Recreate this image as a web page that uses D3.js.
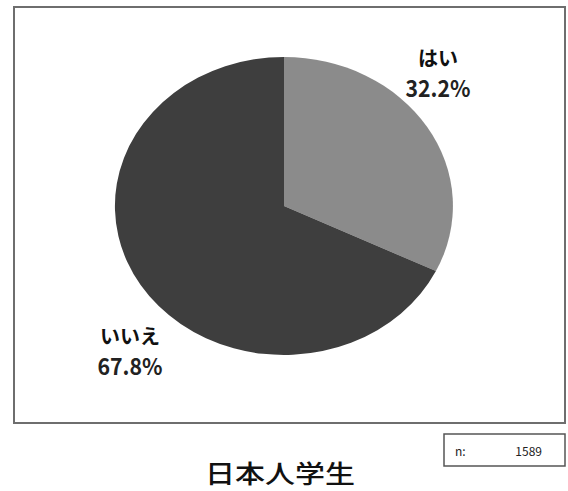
<!DOCTYPE html>
<html>
<head>
<meta charset="utf-8">
<script src="https://cdn.jsdelivr.net/npm/d3@7"></script>
<style>
  html, body { margin: 0; padding: 0; background: #fff; }
  svg { display: block; }
  text { font-family: "Noto Sans CJK JP", "Noto Sans", sans-serif; }
</style>
</head>
<body>
<div id="chart"></div>
<script>
// Answers and their shares (percent)
const categories = ["はい", "いいえ"];
const values = [32.2, 67.8];
const sliceColors = ["#8b8b8b", "#3e3e3e"];
const sampleSize = 1589;
const chartTitle = "日本人学生";

const W = 568, H = 491;
const svg = d3.select("#chart").append("svg")
  .attr("width", W).attr("height", H);

// Plot frame
svg.append("rect")
  .attr("x", 14).attr("y", 7).attr("width", 551).attr("height", 416)
  .attr("fill", "#fff").attr("stroke", "#6e6e6e").attr("stroke-width", 2);

// Pie, drawn on a unit circle and stretched into an ellipse
const cx = 284, cy = 206, rx = 169, ry = 149;
const pie = d3.pie().sort(null).value(d => d)(values);
const arc = d3.arc().innerRadius(0).outerRadius(1);

const g = svg.append("g")
  .attr("transform", `translate(${cx},${cy}) scale(${rx},${ry})`);
g.selectAll("path").data(pie).join("path")
  .attr("d", arc)
  .attr("fill", (d, i) => sliceColors[i]);

// Slice labels: name above, percentage below
const labelPos = [
  { x: 438, y: 66 },
  { x: 130, y: 344 }
];
categories.forEach((c, i) => {
  svg.append("text")
    .attr("x", labelPos[i].x).attr("y", labelPos[i].y)
    .attr("text-anchor", "middle")
    .attr("font-size", 20).attr("font-weight", "bold")
    .attr("fill", "#111")
    .text(c);
  svg.append("text")
    .attr("x", labelPos[i].x).attr("y", labelPos[i].y + 31)
    .attr("text-anchor", "middle")
    .attr("font-size", 23).attr("font-weight", "bold")
    .attr("font-family", "Liberation Sans, Arial, sans-serif")
    .attr("textLength", 65).attr("lengthAdjust", "spacingAndGlyphs")
    .attr("fill", "#222")
    .text(d3.format(".1f")(values[i]) + "%");
});

// Sample size box
svg.append("rect")
  .attr("x", 444).attr("y", 434).attr("width", 121).attr("height", 32)
  .attr("fill", "#fff").attr("stroke", "#555").attr("stroke-width", 1.5);
svg.append("text")
  .attr("x", 455).attr("y", 456)
  .attr("font-size", 12).attr("fill", "#222")
  .attr("font-family", "Liberation Sans, Arial, sans-serif")
  .text("n:");
svg.append("text")
  .attr("x", 542).attr("y", 456)
  .attr("text-anchor", "end")
  .attr("font-size", 12).attr("fill", "#222")
  .attr("font-family", "Liberation Sans, Arial, sans-serif")
  .text(sampleSize);

// Title
svg.append("text")
  .attr("x", 280).attr("y", 483)
  .attr("text-anchor", "middle")
  .attr("font-size", 25).attr("font-weight", 500).attr("fill", "#111")
  .attr("textLength", 150).attr("lengthAdjust", "spacingAndGlyphs")
  .text(chartTitle);
</script>
</body>
</html>
